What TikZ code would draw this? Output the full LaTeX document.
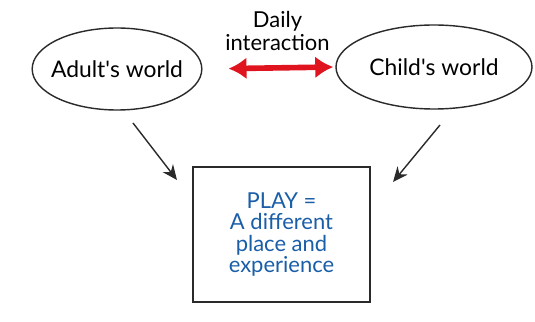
\documentclass[tikz,border=0pt]{standalone}
\usepackage{fontspec}
\setmainfont{Lato}
\usepackage{tikz}
\usetikzlibrary{positioning,arrows.meta,calc,shapes.geometric}
\definecolor{ink}{HTML}{2A2A2A}
\definecolor{accent}{HTML}{E0141E}
\definecolor{playblue}{HTML}{1A5EA8}
\tikzset{
  world/.style={draw=ink,ellipse,thick,align=center,inner sep=0pt,font=\fontsize{13}{15}\selectfont},
  playbox/.style={draw=ink,thick,minimum width=35.4mm,minimum height=27mm,align=center,text=playblue,font=\fontsize{12.5}{12.2}\selectfont},
  plain/.style={align=center,font=\fontsize{12.5}{13.6}\selectfont},
  flow/.style={-{Stealth[length=3mm,width=2.6mm]},draw=ink,thick},
  redflow/.style={{Latex[length=3.6mm,width=4.4mm]}-{Latex[length=3.6mm,width=4.4mm]},draw=accent,line width=3.2pt}}

\begin{document}
\begin{tikzpicture}
  \useasboundingbox (0,0) rectangle (10.7,-6.44);
  \node[world,inner xsep=-1.2mm,minimum width=33.6mm,minimum height=16.4mm] (adult) at (2.34,-1.38) {Adult\textquotesingle s world};
  \node[world,minimum width=39.2mm,minimum height=16.8mm] (child) at (8.68,-1.34) {Child\textquotesingle s world};
  \node[plain] (daily) at (5.55,-0.62) {Daily\\interaction};
  \node[playbox] (play) at (5.63,-4.69) {PLAY =\\A different\\place and\\experience};
  \coordinate (a1) at (2.66,-2.46); \coordinate (a2) at (3.54,-3.6);
  \coordinate (c1) at (8.8,-2.5); \coordinate (c2) at (7.86,-3.64);
  \draw[redflow,shorten <=5.2mm,shorten >=0.4mm] (adult.east) -- (child.west);
  \draw[flow] (a1) -- (a2); \draw[flow] (c1) -- (c2);
\end{tikzpicture}
\end{document}
